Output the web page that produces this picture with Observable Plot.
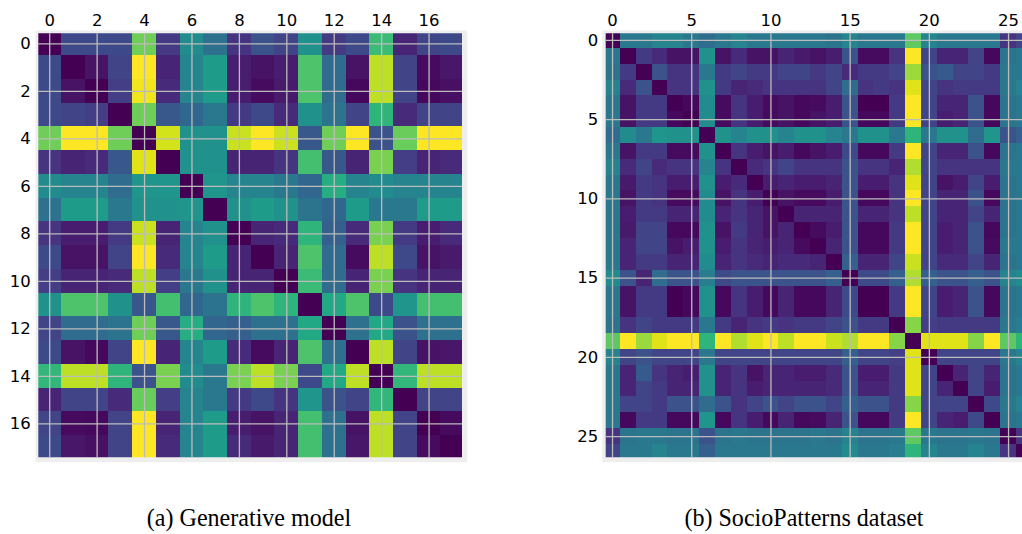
<!DOCTYPE html>
<html>
<head>
<meta charset="utf-8">
<script src="https://cdn.jsdelivr.net/npm/d3@7"></script>
<script src="https://cdn.jsdelivr.net/npm/@observablehq/plot@0.6"></script>
<style>
  html, body { margin: 0; padding: 0; background: #fff; overflow: hidden; }
  #fig { position: relative; width: 1022px; height: 534px; overflow: hidden; background: #fff; }
  .panel { position: absolute; top: 0; }
  .caption {
    position: absolute; top: 505px; width: 400px; text-align: center;
    font-family: "Liberation Serif", "DejaVu Serif", serif; font-size: 26px; line-height: 26px;
    color: #000; white-space: nowrap; transform: scaleX(0.925); transform-origin: 50% 50%;
  }
</style>
</head>
<body>
<div id="fig"></div>
<script>
// Pairwise matrix produced by the generative model (18 nodes), values in [0, 1]
const generativeRows = [
  [0.00,0.22,0.22,0.22,0.78,0.17,0.48,0.37,0.15,0.25,0.20,0.50,0.17,0.22,0.68,0.10,0.20,0.22],
  [0.22,0.00,0.05,0.20,1.00,0.10,0.45,0.55,0.08,0.05,0.08,0.72,0.35,0.05,0.90,0.20,0.03,0.06],
  [0.22,0.05,0.00,0.18,0.98,0.12,0.45,0.55,0.08,0.03,0.07,0.72,0.35,0.02,0.90,0.20,0.02,0.04],
  [0.22,0.20,0.18,0.00,0.78,0.27,0.33,0.40,0.17,0.22,0.12,0.50,0.38,0.20,0.65,0.12,0.20,0.20],
  [0.78,1.00,1.00,0.78,0.00,0.93,0.50,0.50,0.92,1.00,0.92,0.27,0.78,1.00,0.25,0.77,1.00,1.00],
  [0.15,0.10,0.12,0.27,0.95,0.00,0.50,0.50,0.10,0.10,0.15,0.70,0.27,0.10,0.80,0.18,0.10,0.12],
  [0.48,0.45,0.45,0.35,0.52,0.52,0.00,0.52,0.45,0.45,0.40,0.33,0.62,0.45,0.48,0.45,0.45,0.45],
  [0.37,0.55,0.55,0.40,0.50,0.50,0.52,0.00,0.50,0.55,0.50,0.38,0.33,0.55,0.40,0.40,0.55,0.55],
  [0.15,0.08,0.08,0.17,0.92,0.10,0.45,0.50,0.00,0.10,0.12,0.65,0.30,0.12,0.80,0.17,0.08,0.12],
  [0.22,0.05,0.05,0.20,1.00,0.12,0.45,0.55,0.10,0.00,0.10,0.72,0.35,0.03,0.90,0.22,0.05,0.07],
  [0.18,0.10,0.10,0.12,0.90,0.18,0.40,0.50,0.10,0.10,0.00,0.68,0.35,0.10,0.80,0.15,0.10,0.10],
  [0.50,0.72,0.72,0.50,0.27,0.70,0.33,0.38,0.65,0.72,0.65,0.00,0.60,0.72,0.22,0.52,0.70,0.70],
  [0.20,0.35,0.35,0.38,0.78,0.27,0.62,0.33,0.30,0.37,0.37,0.60,0.00,0.37,0.60,0.25,0.37,0.37],
  [0.22,0.05,0.02,0.20,1.00,0.10,0.45,0.55,0.12,0.03,0.10,0.72,0.37,0.00,0.90,0.20,0.05,0.06],
  [0.66,0.90,0.90,0.65,0.25,0.80,0.48,0.40,0.80,0.90,0.80,0.22,0.60,0.90,0.00,0.66,0.90,0.90],
  [0.10,0.20,0.20,0.12,0.77,0.18,0.45,0.40,0.17,0.22,0.15,0.52,0.25,0.20,0.66,0.00,0.20,0.20],
  [0.20,0.03,0.02,0.20,1.00,0.10,0.45,0.55,0.08,0.05,0.10,0.70,0.37,0.05,0.90,0.20,0.00,0.03],
  [0.22,0.06,0.04,0.20,1.00,0.12,0.45,0.55,0.12,0.07,0.10,0.70,0.37,0.06,0.90,0.20,0.03,0.00]
];

// Pairwise matrix measured on the SocioPatterns dataset (27 nodes), values in [0, 1]
const socioRows = [
  [0.00,0.40,0.40,0.45,0.45,0.40,0.35,0.40,0.45,0.40,0.40,0.40,0.40,0.40,0.38,0.45,0.40,0.40,0.40,0.75,0.45,0.40,0.40,0.40,0.40,0.15,0.20],
  [0.40,0.00,0.17,0.12,0.05,0.05,0.50,0.05,0.12,0.05,0.05,0.10,0.07,0.05,0.08,0.25,0.03,0.03,0.15,1.00,0.20,0.10,0.10,0.20,0.02,0.38,0.40],
  [0.38,0.17,0.00,0.25,0.15,0.15,0.40,0.17,0.20,0.17,0.17,0.20,0.20,0.17,0.20,0.12,0.17,0.17,0.20,0.85,0.25,0.28,0.20,0.20,0.17,0.40,0.40],
  [0.45,0.12,0.25,0.00,0.15,0.15,0.50,0.17,0.10,0.12,0.15,0.15,0.15,0.15,0.20,0.35,0.15,0.17,0.15,0.95,0.20,0.15,0.17,0.17,0.17,0.40,0.45],
  [0.40,0.05,0.17,0.17,0.00,0.02,0.48,0.03,0.15,0.08,0.03,0.05,0.02,0.03,0.08,0.25,0.00,0.00,0.17,1.00,0.20,0.10,0.10,0.25,0.02,0.38,0.40],
  [0.40,0.05,0.17,0.17,0.02,0.00,0.48,0.03,0.15,0.08,0.03,0.05,0.02,0.05,0.08,0.25,0.02,0.02,0.17,1.00,0.20,0.08,0.10,0.25,0.02,0.38,0.40],
  [0.35,0.48,0.40,0.52,0.50,0.50,0.00,0.50,0.45,0.50,0.50,0.45,0.50,0.50,0.45,0.40,0.50,0.50,0.40,0.65,0.40,0.50,0.50,0.35,0.52,0.25,0.30],
  [0.40,0.05,0.17,0.17,0.03,0.03,0.50,0.00,0.15,0.08,0.05,0.08,0.02,0.05,0.08,0.22,0.02,0.02,0.17,1.00,0.20,0.10,0.10,0.25,0.02,0.38,0.40],
  [0.45,0.12,0.20,0.12,0.15,0.15,0.45,0.15,0.00,0.12,0.15,0.20,0.15,0.15,0.15,0.25,0.15,0.15,0.10,0.88,0.20,0.15,0.15,0.15,0.15,0.40,0.40],
  [0.40,0.07,0.17,0.15,0.08,0.08,0.50,0.08,0.12,0.00,0.08,0.10,0.08,0.08,0.10,0.25,0.08,0.08,0.15,0.95,0.20,0.05,0.08,0.20,0.08,0.38,0.40],
  [0.40,0.05,0.17,0.15,0.03,0.03,0.48,0.05,0.15,0.08,0.00,0.05,0.03,0.03,0.08,0.25,0.02,0.02,0.15,1.00,0.20,0.10,0.10,0.25,0.02,0.38,0.40],
  [0.40,0.08,0.17,0.17,0.10,0.10,0.48,0.10,0.15,0.10,0.05,0.00,0.10,0.10,0.10,0.25,0.10,0.10,0.15,0.90,0.20,0.10,0.10,0.20,0.10,0.38,0.40],
  [0.40,0.07,0.20,0.20,0.02,0.02,0.50,0.05,0.17,0.10,0.05,0.10,0.00,0.03,0.08,0.25,0.02,0.02,0.17,1.00,0.20,0.08,0.10,0.25,0.02,0.38,0.40],
  [0.40,0.10,0.20,0.20,0.05,0.08,0.50,0.08,0.15,0.10,0.08,0.10,0.03,0.00,0.10,0.25,0.02,0.02,0.17,1.00,0.20,0.08,0.10,0.25,0.03,0.40,0.40],
  [0.40,0.10,0.17,0.17,0.10,0.10,0.48,0.10,0.15,0.12,0.10,0.12,0.12,0.10,0.00,0.30,0.10,0.10,0.20,0.92,0.20,0.12,0.12,0.20,0.10,0.38,0.40],
  [0.48,0.25,0.10,0.35,0.25,0.25,0.42,0.22,0.25,0.25,0.25,0.25,0.25,0.25,0.30,0.00,0.22,0.22,0.30,0.88,0.30,0.25,0.25,0.30,0.25,0.45,0.48],
  [0.40,0.05,0.17,0.17,0.00,0.02,0.50,0.02,0.15,0.08,0.02,0.10,0.02,0.02,0.10,0.22,0.00,0.00,0.17,1.00,0.20,0.08,0.10,0.25,0.02,0.38,0.40],
  [0.40,0.05,0.17,0.17,0.00,0.02,0.50,0.02,0.15,0.08,0.02,0.10,0.02,0.02,0.10,0.22,0.00,0.00,0.17,1.00,0.20,0.08,0.10,0.25,0.02,0.38,0.40],
  [0.38,0.15,0.20,0.17,0.17,0.17,0.40,0.17,0.10,0.15,0.17,0.15,0.17,0.17,0.20,0.25,0.17,0.17,0.00,0.82,0.18,0.17,0.17,0.17,0.17,0.40,0.42],
  [0.75,1.00,0.85,0.95,1.00,1.00,0.65,1.00,0.88,0.95,1.00,0.90,1.00,1.00,0.92,0.88,1.00,1.00,0.82,0.00,0.95,0.95,0.95,0.82,1.00,0.75,0.65],
  [0.45,0.20,0.25,0.20,0.20,0.20,0.40,0.20,0.20,0.20,0.20,0.20,0.20,0.20,0.20,0.30,0.20,0.20,0.18,0.95,0.00,0.20,0.20,0.20,0.20,0.40,0.45],
  [0.40,0.10,0.28,0.15,0.10,0.08,0.50,0.10,0.15,0.05,0.10,0.10,0.08,0.08,0.12,0.25,0.08,0.08,0.17,0.95,0.20,0.00,0.10,0.20,0.10,0.38,0.40],
  [0.40,0.10,0.20,0.17,0.10,0.10,0.50,0.10,0.15,0.08,0.10,0.10,0.10,0.10,0.12,0.25,0.10,0.10,0.17,0.95,0.20,0.10,0.00,0.20,0.08,0.38,0.40],
  [0.40,0.20,0.20,0.17,0.25,0.25,0.35,0.25,0.15,0.20,0.25,0.20,0.25,0.25,0.20,0.30,0.25,0.25,0.17,0.82,0.20,0.20,0.20,0.00,0.22,0.40,0.45],
  [0.40,0.02,0.17,0.17,0.02,0.02,0.52,0.02,0.15,0.08,0.02,0.10,0.02,0.03,0.10,0.25,0.02,0.02,0.17,1.00,0.20,0.10,0.08,0.22,0.00,0.38,0.40],
  [0.15,0.38,0.40,0.40,0.38,0.38,0.25,0.38,0.40,0.38,0.38,0.38,0.38,0.40,0.38,0.45,0.38,0.38,0.40,0.75,0.40,0.38,0.38,0.40,0.38,0.00,0.15],
  [0.20,0.40,0.40,0.45,0.40,0.40,0.30,0.40,0.40,0.40,0.40,0.40,0.40,0.40,0.40,0.48,0.40,0.40,0.42,0.65,0.45,0.40,0.40,0.45,0.40,0.15,0.00]
];

// Tick positions shown along both axes of each panel
const generativeTicks = [0, 2, 4, 6, 8, 10, 12, 14, 16];
const socioTicks = [0, 5, 10, 15, 20, 25];

// Sub-figure captions
const captionA = "(a) Generative model";
const captionB = "(b) SocioPatterns dataset";

// Flatten a row-major matrix into {row, col, value} records
function toCells(rows) {
  return rows.flatMap((row, i) => row.map((value, j) => ({row: i, col: j, value})));
}

function matrixPlot({rows, ticks, width, height, marginLeft, marginRight, xDomain, yDomain, border}) {
  const tickText = {tickSize: 0, tickPadding: 8, label: null, fill: "#000", fontSize: 16.5};
  return Plot.plot({
    width,
    height,
    marginTop: 33.3,
    marginBottom: 5,
    marginLeft,
    marginRight,
    style: {
      fontFamily: "'DejaVu Sans', sans-serif",
      fontSize: "16.5px",
      color: "#000",
      background: "transparent",
      overflow: "visible"
    },
    x: {type: "linear", domain: xDomain},
    y: {type: "linear", domain: yDomain, reverse: true},
    color: {type: "linear", scheme: "viridis", domain: [0, 1]},
    marks: [
      // light grey axes background peeking out around the image
      Plot.frame({fill: "#eeeeee", stroke: "none", ...border}),
      Plot.rect(toCells(rows), {
        x1: d => d.col - 0.5,
        x2: d => d.col + 0.5,
        y1: d => d.row - 0.5,
        y2: d => d.row + 0.5,
        fill: "value",
        clip: true,
        shapeRendering: "crispEdges"
      }),
      Plot.gridX(ticks, {stroke: "#bcbcbc", strokeOpacity: 1, strokeWidth: 1.3}),
      Plot.gridY(ticks, {stroke: "#bcbcbc", strokeOpacity: 1, strokeWidth: 1.3}),
      Plot.axisX(ticks, {anchor: "top", ...tickText}),
      Plot.axisY(ticks, {anchor: "left", ...tickText})
    ]
  });
}

const fig = document.getElementById("fig");

const panelA = matrixPlot({
  rows: generativeRows,
  ticks: generativeTicks,
  width: 467,
  height: 462.3,
  marginLeft: 38.3,
  marginRight: 5,
  xDomain: [-0.46, 17.41],
  yDomain: [-0.42, 17.43],
  border: {insetLeft: -3.3, insetRight: -4.7, insetTop: -3.3, insetBottom: -4.4}
});
panelA.classList.add("panel");
panelA.style.left = "0px";
fig.appendChild(panelA);

const panelB = matrixPlot({
  rows: socioRows,
  ticks: socioTicks,
  width: 462,
  height: 462.3,
  marginLeft: 45.7,
  marginRight: 0,
  xDomain: [-0.4, 25.88],
  yDomain: [-0.42, 26.34],
  border: {insetLeft: -4, insetRight: 0, insetTop: -3.3, insetBottom: -4.4}
});
panelB.classList.add("panel");
panelB.style.left = "560px";
fig.appendChild(panelB);

for (const [text, center] of [[captionA, 249], [captionB, 804]]) {
  const div = document.createElement("div");
  div.className = "caption";
  div.textContent = text;
  div.style.left = (center - 200) + "px";
  fig.appendChild(div);
}
</script>
</body>
</html>
